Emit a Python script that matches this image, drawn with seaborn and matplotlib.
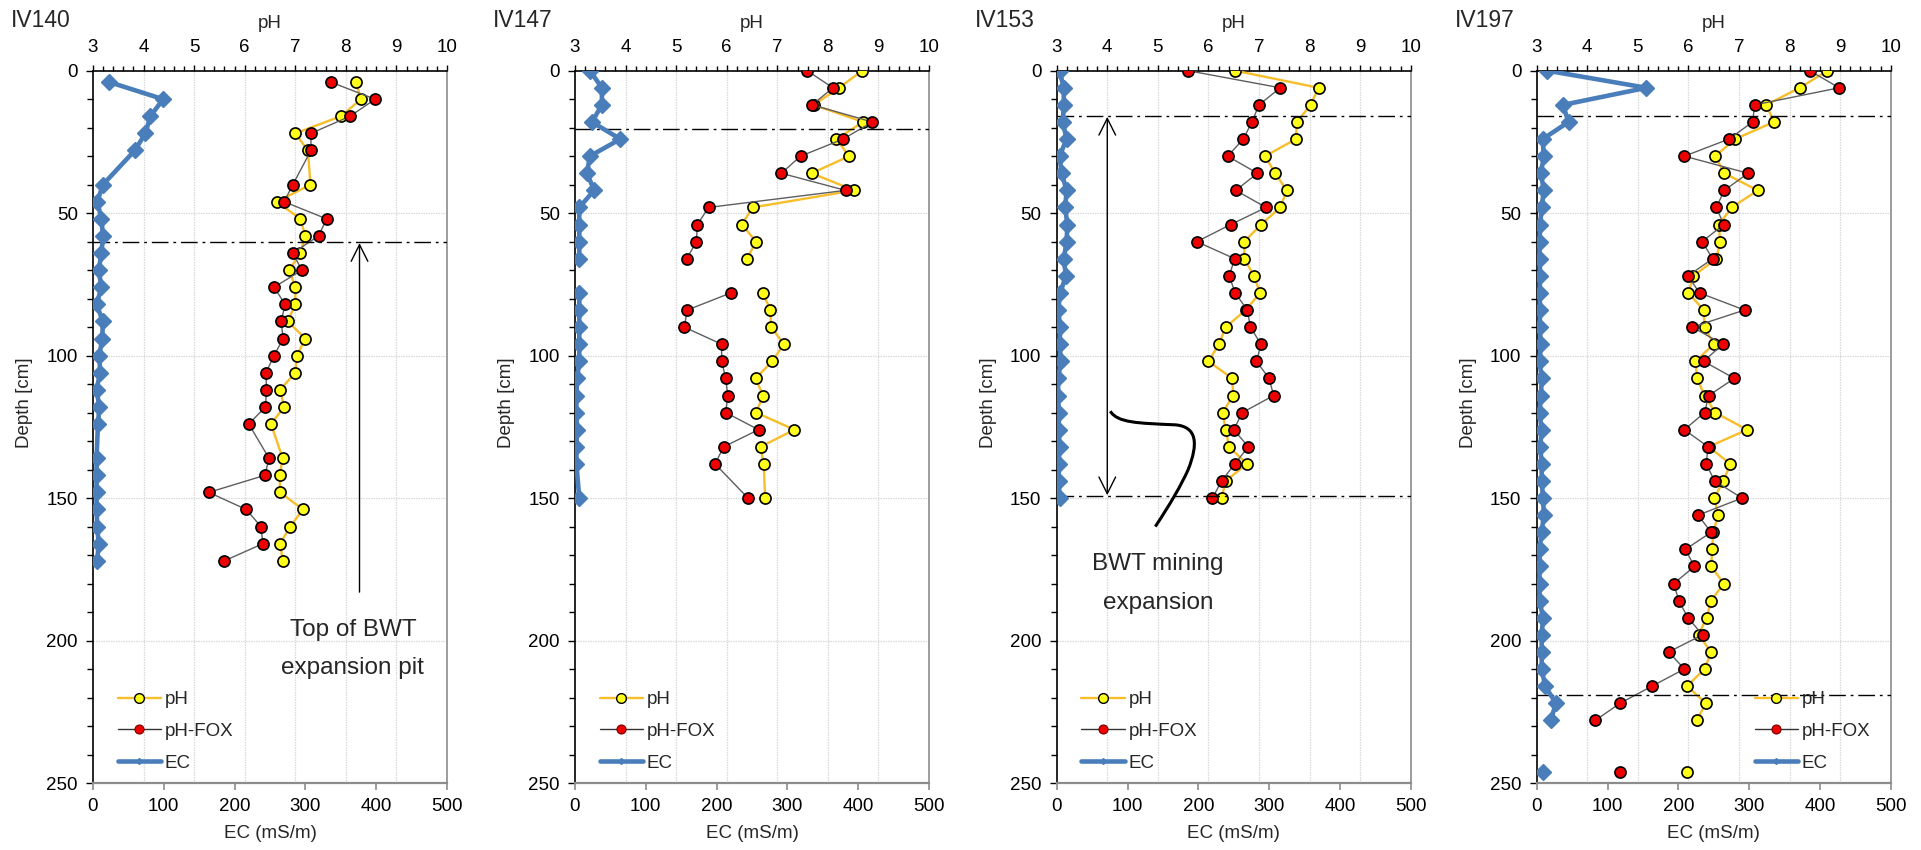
import numpy as np
import pandas as pd
import matplotlib
matplotlib.use("Agg")
import matplotlib.pyplot as plt
from matplotlib.patches import FancyArrowPatch, PathPatch
from matplotlib.path import Path
from matplotlib.lines import Line2D
from matplotlib.ticker import MultipleLocator
import seaborn as sns

nan = np.nan

# ---- profile data: depth (cm), EC (mS/m), pH, pH-FOX ----
profiles = ["IV140", "IV147", "IV153", "IV197"]

depth_iv140 = [4, 10, 16, 22, 28, 40, 46, 52, 58, 64, 70, 76, 82, 88, 94, 100,
               106, 112, 118, 124, 136, 142, 148, 154, 160, 166, 172]
ec_iv140 = [23, 99, 81, 74, 59, 14, 6, 12, 14, 12, 8, 12, 5, 14, 13, 9,
            10, 5, 9, 7, 5, 5, 5, 5, 6, 8, 6]
ph_iv140 = [8.2, 8.3, 7.9, 7.0, 7.25, 7.3, 6.63, 7.1, 7.2, 7.1, 6.88, 7.0, 7.0, 6.85, 7.2, 7.03,
            7.0, 6.7, 6.78, 6.52, 6.75, 6.69, 6.7, 7.15, 6.9, 6.7, 6.75]
fox_iv140 = [7.7, 8.58, 8.08, 7.31, 7.31, 6.95, 6.78, 7.62, 7.46, 6.95, 7.13, 6.58, 6.8, 6.72, 6.76, 6.58,
             6.42, 6.43, 6.41, 6.08, 6.48, 6.4, 5.29, 6.03, 6.32, 6.36, 5.6]

depth_iv147 = [0, 6, 12, 18, 24, 30, 36, 42, 48, 54, 60, 66, 72, 78, 84, 90,
               96, 102, 108, 114, 120, 126, 132, 138, 150]
ec_iv147 = [21, 38, 38, 24, 64, 21, 17, 27, 6, 6, 6, 6, nan, 6, 6, 6,
            6, 6, 3, 2, 2, 3, 2, 2, 6]
ph_iv147 = [8.68, 8.22, 7.72, 8.7, 8.17, 8.42, 7.68, 8.52, 6.51, 6.3, 6.58, 6.4, nan, 6.72, 6.86, 6.88,
            7.13, 6.9, 6.57, 6.72, 6.58, 7.34, 6.67, 6.73, 6.76]
fox_iv147 = [7.59, 8.1, 7.69, 8.88, 8.3, 7.46, 7.08, 8.35, 5.64, 5.42, 5.4, 5.21, nan, 6.08, 5.22, 5.16,
             5.9, 5.9, 5.98, 6.02, 5.98, 6.63, 5.94, 5.77, 6.42]

depth_iv153 = [0, 6, 12, 18, 24, 30, 36, 42, 48, 54, 60, 66, 72, 78, 84, 90,
               96, 102, 108, 114, 120, 126, 132, 138, 144, 150]
ec_iv153 = [4, 10, 10, 8.5, 14, 4, 7, 14, 12, 15, 14, 10, 13, 5, 2, 5,
            4, 6, 2, 2, 3, 3, 4, 3, 3, 4]
ph_iv153 = [6.53, 8.18, 8.02, 7.75, 7.73, 7.12, 7.32, 7.55, 7.42, 7.04, 6.71, 6.71, 6.9, 7.02, 6.74, 6.34,
            6.21, 6.0, 6.47, 6.49, 6.28, 6.34, 6.41, 6.76, 6.34, 6.26]
fox_iv153 = [5.6, 7.42, 7.0, 6.86, 6.69, 6.38, 6.97, 6.54, 7.14, 6.44, 5.77, 6.52, 6.41, 6.53, 6.77, 6.83,
             7.04, 6.95, 7.2, 7.29, 6.67, 6.5, 6.79, 6.52, 6.26, 6.08]

depth_iv197 = [0, 6, 12, 18, 24, 30, 36, 42, 48, 54, 60, 66, 72, 78, 84, 90,
               96, 102, 108, 114, 120, 126, 132, 138, 144, 150, 156, 162, 168, 174,
               180, 186, 192, 198, 204, 210, 216, 222, 228, 237, 246]
ec_iv197 = [15, 155, 37, 45, 8.5, 10, 6, 10, 7, 5, 4, 4, 5, 4, 5, 4,
            6, 4, 7, 6, 4, 7, 5, 7, 7, 9, 10, 7, 4, 4,
            4, 4, 9, 7, 7, 7, 12, 27, 20, nan, 9]
ph_iv197 = [8.75, 8.2, 7.54, 7.69, 6.92, 6.53, 6.71, 7.37, 6.86, 6.6, 6.63, 6.55, 6.1, 6.0, 6.3, 6.32,
            6.5, 6.14, 6.17, 6.32, 6.53, 7.16, 6.4, 6.83, 6.69, 6.51, 6.59, 6.49, 6.47, 6.45,
            6.7, 6.45, 6.36, 6.2, 6.45, 6.32, 5.97, 6.35, 6.16, nan, 5.97]
fox_iv197 = [8.4, 8.98, 7.31, 7.27, 6.8, 5.92, 7.18, 6.71, 6.55, 6.7, 6.27, 6.48, 5.99, 6.22, 7.11, 6.08,
             6.68, 6.3, 6.91, 6.4, 6.32, 5.92, 6.39, 6.35, 6.52, 7.06, 6.19, 6.45, 5.94, 6.12,
             5.71, 5.81, 5.99, 6.28, 5.61, 5.92, 5.28, 4.65, 4.16, nan, 4.65]

depths = [depth_iv140, depth_iv147, depth_iv153, depth_iv197]
ec_values = [ec_iv140, ec_iv147, ec_iv153, ec_iv197]
ph_values = [ph_iv140, ph_iv147, ph_iv153, ph_iv197]
fox_values = [fox_iv140, fox_iv147, fox_iv153, fox_iv197]

# boundary depths (dash-dot lines) per profile
boundaries = [[60], [20.5], [16, 149.3], [16, 219]]

ph_ticks = list(range(3, 11))
depth_ticks = list(range(0, 251, 50))
ec_ticks = list(range(0, 501, 100))

# ---- styling ----
GOLD = "#F7BE2A"
YELLOW = "#FFFF1A"
RED = "#EE0000"
GREY = "#5E5E5E"
BLUE = "#4A7EBB"
AXGREY = "#8C8C8C"
GRIDC = "#D9D9D9"
GRIDLS = (0, (1.2, 0.8))
FS = 13.5

sns.set_style("white")
plt.rcParams["font.family"] = ["Liberation Sans", "DejaVu Sans"]
plt.rcParams["axes.grid"] = False

W, H = 1921, 850
fig = plt.figure(figsize=(W / 100, H / 100), dpi=100)

ax_left_px = [93, 575, 1056.7, 1536.7]
ax_w_px = 354
ax_top_px, ax_bot_px = 70.7, 783
legend_x = [0.07, 0.07, 0.07, 0.616]


def segmented(depth, values):
    df = pd.DataFrame({"depth": depth, "value": values})
    df["seg"] = df["value"].isna().cumsum()
    return df.dropna()


for i, name in enumerate(profiles):
    rect = [ax_left_px[i] / W, 1 - ax_bot_px / H, ax_w_px / W, (ax_bot_px - ax_top_px) / H]
    ax = fig.add_axes(rect)
    tw = ax.twiny()

    # light dotted grid at the labelled pH and depth ticks
    for p in ph_ticks[1:-1]:
        ax.axvline(p, color=GRIDC, linestyle=GRIDLS, linewidth=0.9, zorder=0.5)
    for d in depth_ticks[1:-1]:
        ax.axhline(d, color=GRIDC, linestyle=GRIDLS, linewidth=0.9, zorder=0.5)

    # pH (top axis)
    sns.lineplot(data=segmented(depths[i], ph_values[i]), x="value", y="depth",
                 units="seg", estimator=None, sort=False, ax=ax, legend=False,
                 color=GOLD, linewidth=1.7, marker="o", markersize=8,
                 markerfacecolor=YELLOW, markeredgecolor="black",
                 markeredgewidth=1.2, zorder=3)
    sns.lineplot(data=segmented(depths[i], fox_values[i]), x="value", y="depth",
                 units="seg", estimator=None, sort=False, ax=ax, legend=False,
                 color=GREY, linewidth=1.0, marker="o", markersize=8,
                 markerfacecolor=RED, markeredgecolor="black",
                 markeredgewidth=1.2, zorder=4)
    # EC (bottom axis)
    sns.lineplot(data=segmented(depths[i], ec_values[i]), x="value", y="depth",
                 units="seg", estimator=None, sort=False, ax=tw, legend=False,
                 color=BLUE, linewidth=3.3, marker="D", markersize=8,
                 markerfacecolor=BLUE, markeredgecolor=BLUE,
                 markeredgewidth=1.0, zorder=3)

    # pH axis
    ax.set_xlim(3, 10)
    ax.set_ylim(250, 0)
    ax.xaxis.set_ticks_position("top")
    ax.xaxis.set_label_position("top")
    ax.set_xticks(ph_ticks)
    ax.xaxis.set_minor_locator(MultipleLocator(0.2))
    ax.set_yticks(depth_ticks)
    ax.yaxis.set_minor_locator(MultipleLocator(10))
    ax.grid(False, which="both", axis="both")
    ax.tick_params(axis="x", which="both", top=True, bottom=False, direction="out",
                   colors="black", labelsize=FS, pad=6, gridOn=False)
    ax.tick_params(axis="x", which="major", length=4.5, width=1)
    ax.tick_params(axis="x", which="minor", length=3.5, width=1)
    ax.tick_params(axis="y", which="both", left=True, right=False, direction="out",
                   colors="black", labelsize=FS, pad=6, gridOn=False)
    ax.tick_params(axis="y", which="major", length=5, width=1)
    ax.tick_params(axis="y", which="minor", length=4, width=1)
    ax.set_xlabel("pH", fontsize=FS, labelpad=8)
    ax.set_ylabel("Depth [cm]", fontsize=FS)
    ax.yaxis.set_label_coords(-0.17, 0.534)
    ax.spines["left"].set_color("black")
    ax.spines["top"].set_color("black")
    ax.spines["right"].set_color(AXGREY)
    ax.spines["bottom"].set_visible(False)
    for s in ("left", "top", "right"):
        ax.spines[s].set_linewidth(1.2)

    # EC axis
    tw.set_xlim(0, 500)
    tw.xaxis.set_ticks_position("bottom")
    tw.xaxis.set_label_position("bottom")
    tw.set_xticks(ec_ticks)
    tw.grid(False, which="both", axis="both")
    tw.tick_params(axis="x", which="major", bottom=True, top=False, direction="out",
                   length=5, width=1.2, color=AXGREY, labelcolor="black",
                   labelsize=FS, pad=6, gridOn=False)
    tw.set_xlabel("EC (mS/m)", fontsize=FS, labelpad=7)
    for s in ("left", "top", "right"):
        tw.spines[s].set_visible(False)
    tw.spines["bottom"].set_color(AXGREY)
    tw.spines["bottom"].set_linewidth(1.6)

    # boundaries
    for b in boundaries[i]:
        ax.axhline(b, color="black", linewidth=1.0,
                   linestyle=(0, (12, 3.5, 2, 3.5)), zorder=5)

    # profile name
    fig.text((ax_left_px[i] - 82) / W, 1 - 27 / H, name, fontsize=16.5,
             ha="left", va="baseline")

    # legend
    handles = [
        Line2D([], [], color=GOLD, linewidth=1.7, marker="o", markersize=7,
               markerfacecolor=YELLOW, markeredgecolor="black", markeredgewidth=1),
        Line2D([], [], color="#333333", linewidth=1.0, marker="o", markersize=6.5,
               markerfacecolor=RED, markeredgecolor="#7A0000", markeredgewidth=0.8),
        Line2D([], [], color=BLUE, linewidth=3.3, marker="D", markersize=3,
               markerfacecolor=BLUE, markeredgecolor=BLUE),
    ]
    tw.legend(handles, ["pH", "pH-FOX", "EC"], loc="lower left",
              bbox_to_anchor=(legend_x[i], 0.016), frameon=False,
              fontsize=FS, handlelength=2.3, handletextpad=0.2,
              labelspacing=0.78, borderpad=0, borderaxespad=0)

    if i == 0:
        ax.add_patch(FancyArrowPatch((8.27, 183), (8.27, 60.5),
                                     arrowstyle="->,head_length=12,head_width=6",
                                     mutation_scale=1, linewidth=1.0, color="black",
                                     shrinkA=0, shrinkB=0, zorder=6))
        ax.text(8.14, 198.4, "Top of BWT", fontsize=17.5, ha="center", va="baseline")
        ax.text(8.14, 211.8, "expansion pit", fontsize=17.5, ha="center", va="baseline")

    if i == 2:
        ax.add_patch(FancyArrowPatch((4.0, 16.2), (4.0, 149.0),
                                     arrowstyle="<->,head_length=12,head_width=6",
                                     mutation_scale=1, linewidth=1.0, color="black",
                                     shrinkA=0, shrinkB=0, zorder=6))
        verts = [(4.06, 119.5),
                 (4.2, 123.6), (4.6, 123.7), (5.35, 124.3),
                 (5.78, 125.0), (5.8, 131.0), (5.6, 140.0),
                 (5.4, 148.0), (4.95, 160.0)]
        codes = [Path.MOVETO,
                 Path.CURVE4, Path.CURVE4, Path.CURVE4,
                 Path.CURVE4, Path.CURVE4, Path.CURVE4,
                 Path.CURVE3, Path.CURVE3]
        ax.add_patch(PathPatch(Path(verts, codes), facecolor="none",
                               edgecolor="black", linewidth=2.2, zorder=6))
        ax.text(5.0, 175.3, "BWT mining", fontsize=17.5, ha="center", va="baseline")
        ax.text(5.0, 189.0, "expansion", fontsize=17.5, ha="center", va="baseline")

fig.savefig("out.png", dpi=100)
